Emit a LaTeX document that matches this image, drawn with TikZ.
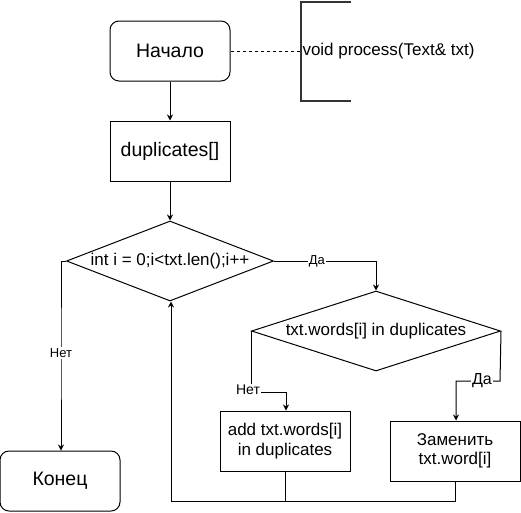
\documentclass[tikz,border=0pt]{standalone}
\usepackage{fontspec}
\setmainfont{Liberation Sans}
\usetikzlibrary{shapes.geometric,arrows.meta}
\tikzset{
  big/.style={font=\fontsize{19.5}{22}\selectfont},
  mid/.style={font=\fontsize{17}{19.5}\selectfont},
  term/.style={draw,rounded corners=9pt,minimum width=120pt,minimum height=60pt,big},
  proc/.style={draw,minimum width=130pt,minimum height=60pt,align=center,mid},
  cond/.style={draw,diamond,inner sep=0pt,minimum height=80pt,mid},
  lbl/.style={fill=white,inner sep=1pt,font=\fontsize{13}{15}\selectfont},
  flow/.style={-{Stealth[length=6pt,width=6pt,inset=2pt]}},
}
\begin{document}
\begin{tikzpicture}[x=1pt,y=-1pt,line width=1pt]
  \useasboundingbox (0,0) rectangle (521,512);
  \node[term] (start) at (170,51) {Начало};
  \node[draw,minimum width=120pt,minimum height=60pt,big] (dup) at (170,151) {duplicates[]};
  \node[cond,shape aspect=2.6,minimum width=207pt] (loop) at (170,261) {int i = 0;i<txt.len();i++};
  \node[cond,shape aspect=3,minimum width=249pt] (check) at (376,331) {txt.words[i] in duplicates};
  \node[proc] (add) at (285,441) {add txt.words[i]\\in duplicates};
  \node[proc] (repl) at (455,451) {Заменить\\txt.word[i]};
  \node[term] (end) at (60,481) {Конец};
  % comment bracket
  \draw[line width=2pt,draw=black!80] (351,2) -- (301,2) coordinate (btop)
    -- (301,101) coordinate (bbot) -- (351,101);
  \coordinate (bmid) at (301,51);
  \node[anchor=west,mid,inner sep=1pt] (note) at (bmid) {void process(Text\& txt)};
  \draw[dashed,line width=0.8pt] (start) -- (bmid);
  % flow
  \draw[flow] (start) -- (dup);
  \draw[flow] (dup) -- (loop);
  \draw[flow] (loop.east) -- (376,261) node[lbl,pos=0.42] {Да} -- (check.north);
  \draw[flow] (loop.west) -- (61,261) -- (61,353) node[lbl] {Нет} -- (end.north -| 61,0);
  \draw[flow] (check.west) -- (251,392) -- (286,392) -- (add.north -| 286,0);
  \node[lbl,font=\fontsize{14}{16}\selectfont] at (248,390) {Нет};
  \draw[flow] (check.east) -- (500,381) -- (456,381) -- (repl.north -| 456,0);
  \node[lbl,font=\fontsize{16}{18}\selectfont] at (482,381) {Да};
  \draw[flow] (add.south) -- (285,501) -- (171,501) -- (loop.south -| 171,0);
  \draw (repl.south) -- (455,501) -- (285,501);
\end{tikzpicture}
\end{document}
